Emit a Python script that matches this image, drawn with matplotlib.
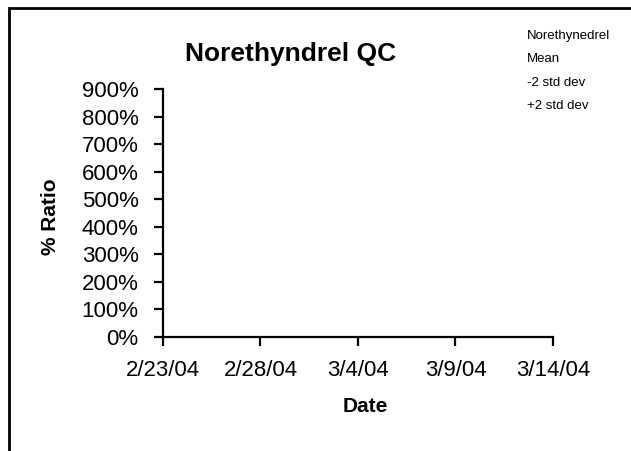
import matplotlib.pyplot as plt
import matplotlib.dates as mdates
from matplotlib.ticker import FuncFormatter
from matplotlib.patches import Rectangle
import datetime as dt

plt.rcParams['font.family'] = ['Liberation Sans', 'DejaVu Sans']

# Data (the chart has no plotted points)
series_names = ['Norethynedrel', 'Mean', '-2 std dev', '+2 std dev']
dates = []
values = []
x_start = dt.date(2004, 2, 23)
x_end = dt.date(2004, 3, 14)
y_ticks = [0, 1, 2, 3, 4, 5, 6, 7, 8, 9]

W, H = 631, 451
fig = plt.figure(figsize=(W / 100, H / 100), dpi=100)
ax = fig.add_axes([163 / W, 1 - 337 / H, 390 / W, 248 / H])

for name in series_names:
    ax.plot(dates, values, label=name)

ax.set_xlim(x_start, x_end)
ax.set_ylim(y_ticks[0], y_ticks[-1])
ax.set_yticks(y_ticks)
ax.yaxis.set_major_formatter(FuncFormatter(lambda v, p: f'{v * 100:.0f}%'))
ax.xaxis.set_major_locator(mdates.DayLocator(interval=5))
ax.xaxis.set_major_formatter(FuncFormatter(
    lambda v, p: f'{mdates.num2date(v).month}/{mdates.num2date(v).day}/{mdates.num2date(v).strftime("%y")}'))

for s in ['top', 'right']:
    ax.spines[s].set_visible(False)
for s in ['left', 'bottom']:
    ax.spines[s].set_linewidth(1.6)
ax.tick_params(axis='both', direction='out', length=6.5, width=1.6, labelsize=16)
ax.tick_params(axis='x', pad=10)
ax.tick_params(axis='y', pad=11)

# title and axis labels placed like the Excel chart
fig.text(291 / W, 1 - 54 / H, 'Norethyndrel QC', fontsize=19, fontweight='bold',
         ha='center', va='center')
fig.text(365 / W, 1 - 407 / H, 'Date', fontsize=15, fontweight='bold',
         ha='center', va='center')
fig.text(50 / W, 1 - 217 / H, '% Ratio', fontsize=15, fontweight='bold',
         ha='center', va='center', rotation=90)

fig.legend(loc='upper left', bbox_to_anchor=(0.816, 0.961), frameon=False,
           handlelength=0, handletextpad=0, fontsize=9.5, labelspacing=0.85)

# outer chart border (runs off the right and bottom of the image)
fig.patches.append(Rectangle((8.5 / W, -0.1), 1.2, 1.1 - 8.5 / H,
                             transform=fig.transFigure, fill=False,
                             edgecolor='black', linewidth=2))

fig.savefig('out.png', dpi=100)
